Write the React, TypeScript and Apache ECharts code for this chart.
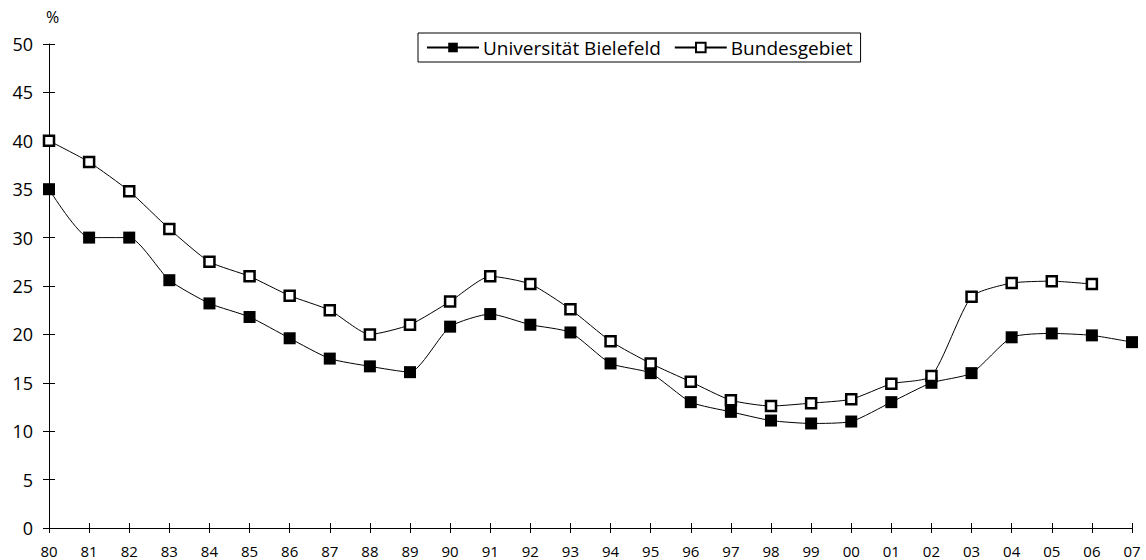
import React, { useEffect, useRef } from "react";
import * as echarts from "echarts";

const years = ["80","81","82","83","84","85","86","87","88","89","90","91","92","93","94","95","96","97","98","99","00","01","02","03","04","05","06","07"];
const bielefeld = [35, 30, 30, 25.6, 23.2, 21.8, 19.6, 17.5, 16.7, 16.1, 20.8, 22.1, 21.0, 20.2, 17.0, 16.0, 13.0, 12.0, 11.1, 10.8, 11.0, 13.0, 15.0, 16.0, 19.7, 20.1, 19.9, 19.2];
const bund = [40, 37.8, 34.8, 30.9, 27.5, 26.0, 24.0, 22.5, 20.0, 21.0, 23.4, 26.0, 25.2, 22.6, 19.3, 17.0, 15.1, 13.2, 12.6, 12.9, 13.3, 14.9, 15.7, 23.9, 25.3, 25.5, 25.2, null];
const yTicks = { min: 0, max: 50, interval: 5 };
const seriesNames = ["Universität Bielefeld", "Bundesgebiet"];

const FONT = "'Open Sans', 'DejaVu Sans', sans-serif";

export default function App() {
  const ref = useRef<HTMLDivElement>(null);
  useEffect(() => {
    if (!ref.current) return;
    const chart = echarts.init(ref.current, null, { renderer: "svg" });
    const baseX = {
      type: "category",
      data: years,
      boundaryGap: false,
      axisLine: { lineStyle: { color: "#000", width: 1 } },
    };
    chart.setOption({
      animation: false,
      backgroundColor: "#fff",
      grid: { left: 49, right: 14, top: 44, bottom: 32, containLabel: false },
      legend: {
        left: 418,
        top: 33,
        width: 442,
        padding: [5, 8, 5, 8],
        borderColor: "#000",
        borderWidth: 1,
        borderRadius: 0,
        itemGap: 13,
        itemWidth: 52,
        itemHeight: 12,
        textStyle: { fontFamily: FONT, fontSize: 19, color: "#000", padding: [0, 0, 0, -1] },
        data: seriesNames,
      },
      graphic: [
        { type: "text", left: 46, top: 9, style: { text: "%", font: `16px ${FONT}`, fill: "#000" } },
      ],
      xAxis: [
        {
          ...baseX,
          axisTick: { show: true, inside: false, length: 5, lineStyle: { color: "#000" } },
          axisLabel: { fontFamily: FONT, fontSize: 15, color: "#000", margin: 15, interval: 0 },
          splitLine: { show: false },
        },
        {
          ...baseX,
          position: "bottom",
          axisLine: { show: false },
          axisTick: { show: true, inside: true, length: 5, lineStyle: { color: "#000" } },
          axisLabel: { show: false },
          splitLine: { show: false },
        },
      ],
      yAxis: [
        {
          type: "value",
          ...yTicks,
          axisLine: { show: true, lineStyle: { color: "#000" } },
          axisTick: { show: true, inside: false, length: 6, lineStyle: { color: "#000" } },
          axisLabel: { fontFamily: FONT, fontSize: 18, color: "#000", margin: 16 },
          splitLine: { show: false },
        },
        {
          type: "value",
          ...yTicks,
          position: "left",
          axisLine: { show: false },
          axisTick: { show: true, inside: true, length: 6, lineStyle: { color: "#000" } },
          axisLabel: { show: false },
          splitLine: { show: false },
        },
      ],
      series: [
        {
          name: seriesNames[0],
          type: "line",
          data: bielefeld,
          smooth: 0.2,
          symbol: "rect",
          symbolSize: 12,
          lineStyle: { color: "#000", width: 1 },
          itemStyle: { color: "#000", borderColor: "#000", borderWidth: 0 },
          z: 2,
        },
        {
          name: seriesNames[1],
          type: "line",
          data: bund,
          smooth: 0.2,
          symbol: "rect",
          symbolSize: 10,
          lineStyle: { color: "#000", width: 1 },
          itemStyle: { color: "#fff", borderColor: "#000", borderWidth: 2.5 },
          z: 3,
        },
      ],
    });
    return () => chart.dispose();
  }, []);
  return <div ref={ref} style={{ position: "absolute", left: 0, top: 0, width: 1146, height: 560 }} />;
}
